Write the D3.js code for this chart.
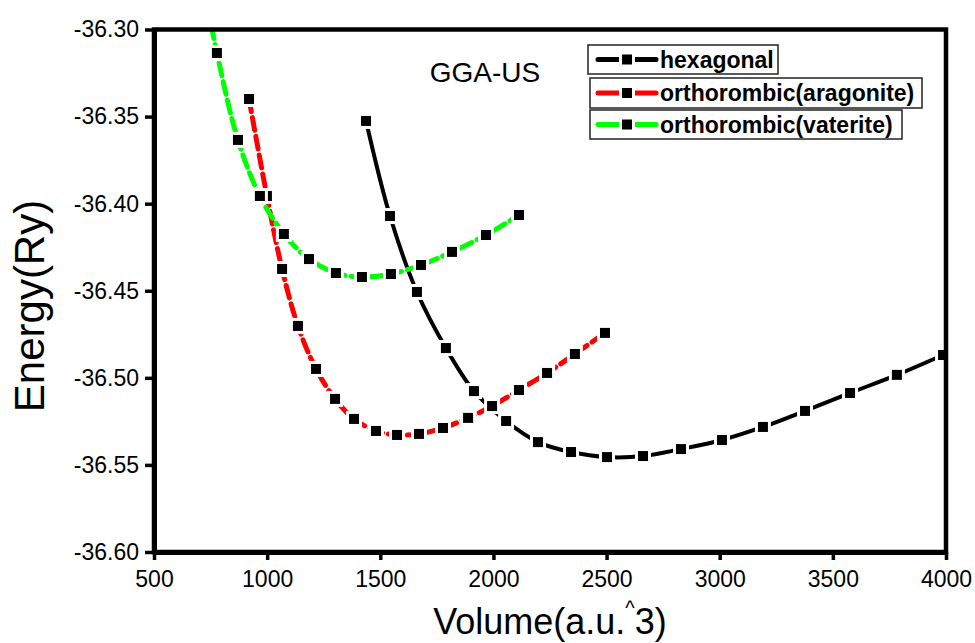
<!DOCTYPE html>
<html>
<head>
<meta charset="utf-8">
<script src="https://cdn.jsdelivr.net/npm/d3@7"></script>
<style>
  body { margin: 0; background: #fff; }
  svg { display: block; }
  text { font-family: "Liberation Sans", Arial, sans-serif; }
</style>
</head>
<body>
<svg id="chart" width="975" height="643"></svg>
<script>
// ---------- data ----------
const hexVolume = [1437, 1543, 1662, 1790, 1914, 2056, 2197, 2343, 2502, 2661, 2829, 3010, 3191, 3377, 3576, 3783, 3987];
const hexEnergy = [-36.3525, -36.4071, -36.4507, -36.4829, -36.5076, -36.5248, -36.5369, -36.5426, -36.5455, -36.5449, -36.5409, -36.5357, -36.5282, -36.5190, -36.5087, -36.4983, -36.4869];

const aragVolume = [920, 999, 1066, 1136, 1216, 1300, 1384, 1481, 1574, 1671, 1777, 1888, 1994, 2113, 2237, 2360, 2493];
const aragEnergy = [-36.3399, -36.3956, -36.4375, -36.4702, -36.4949, -36.5121, -36.5236, -36.5305, -36.5328, -36.5322, -36.5288, -36.5230, -36.5162, -36.5070, -36.4972, -36.4863, -36.4742];

// first vaterite point lies above the plotted range (clipped in the figure)
const vatVolume = [690, 778, 871, 968, 1074, 1185, 1304, 1419, 1547, 1680, 1817, 1967, 2113];
const vatEnergy = [-36.255, -36.3135, -36.3634, -36.3956, -36.4174, -36.4318, -36.4398, -36.4421, -36.4404, -36.4352, -36.4277, -36.4180, -36.4065];

const seriesNames = ["hexagonal", "orthorombic(aragonite)", "orthorombic(vaterite)"];
const seriesColors = ["#000000", "#ff0000", "#00ff00"];

const xTicks = [500, 1000, 1500, 2000, 2500, 3000, 3500, 4000];
const xTickLabels = ["500", "1000", "1500", "2000", "2500", "3000", "3500", "4000"];
const yTicks = [-36.60, -36.55, -36.50, -36.45, -36.40, -36.35, -36.30];
const yTickLabels = ["-36.60", "-36.55", "-36.50", "-36.45", "-36.40", "-36.35", "-36.30"];

const xTitle = "Volume(a.u.";
const xTitleSup = "^";
const xTitleEnd = "3)";
const yTitle = "Energy(Ry)";
const annotation = "GGA-US";

// ---------- layout ----------
const W = 975, H = 643;
const margin = { left: 154, right: 29, top: 29.5, bottom: 91 };
const svg = d3.select("#chart");

const x = d3.scaleLinear().domain([500, 4000]).range([margin.left, W - margin.right]);
const y = d3.scaleLinear().domain([-36.60, -36.30]).range([H - margin.bottom, margin.top]);

svg.append("defs").append("clipPath").attr("id", "plotclip")
  .append("rect")
  .attr("x", x(500)).attr("y", y(-36.30))
  .attr("width", x(4000) - x(500)).attr("height", y(-36.60) - y(-36.30));

// ---------- series ----------
const series = [
  { name: seriesNames[0], color: seriesColors[0], vx: hexVolume, vy: hexEnergy, width: 4, dash: null },
  { name: seriesNames[1], color: seriesColors[1], vx: aragVolume, vy: aragEnergy, width: 5, dash: "13,6" },
  { name: seriesNames[2], color: seriesColors[2], vx: vatVolume, vy: vatEnergy, width: 5, dash: "13,6" }
];

const line = d3.line()
  .x(d => x(d[0]))
  .y(d => y(d[1]))
  .curve(d3.curveCatmullRom.alpha(0.5));

const plot = svg.append("g").attr("clip-path", "url(#plotclip)");
const mk = 10, halo = 16;

series.forEach(s => {
  const pts = s.vx.map((v, i) => [v, s.vy[i]]);
  const g = plot.append("g");
  g.append("path")
    .attr("d", line(pts))
    .attr("fill", "none")
    .attr("stroke", s.color)
    .attr("stroke-width", s.width)
    .attr("stroke-linecap", "round")
    .attr("stroke-dasharray", s.dash);
  g.selectAll("rect.halo").data(pts).join("rect")
    .attr("class", "halo")
    .attr("x", d => x(d[0]) - halo / 2).attr("y", d => y(d[1]) - halo / 2)
    .attr("width", halo).attr("height", halo)
    .attr("fill", "#fff");
  g.selectAll("rect.mk").data(pts).join("rect")
    .attr("class", "mk")
    .attr("x", d => x(d[0]) - mk / 2).attr("y", d => y(d[1]) - mk / 2)
    .attr("width", mk).attr("height", mk)
    .attr("fill", "#000");
});

// ---------- frame & axes ----------
svg.append("rect")
  .attr("x", x(500)).attr("y", y(-36.30))
  .attr("width", x(4000) - x(500)).attr("height", y(-36.60) - y(-36.30))
  .attr("fill", "none").attr("stroke", "#000").attr("stroke-width", 4.5);

const xAxis = d3.axisBottom(x).tickValues(xTicks)
  .tickFormat((d, i) => xTickLabels[i]).tickSizeInner(8).tickSizeOuter(0).tickPadding(11);
const yAxis = d3.axisLeft(y).tickValues(yTicks)
  .tickFormat((d, i) => yTickLabels[i]).tickSizeInner(9).tickSizeOuter(0).tickPadding(6);

const gx = svg.append("g").attr("transform", `translate(0,${y(-36.60)})`).call(xAxis);
const gy = svg.append("g").attr("transform", `translate(${x(500)},0)`).call(yAxis);
[gx, gy].forEach(g => {
  g.select(".domain").attr("stroke", "#000").attr("stroke-width", 5);
  g.selectAll(".tick line").attr("stroke", "#000").attr("stroke-width", 3.5);
  g.selectAll(".tick text")
    .attr("fill", "#000")
    .style("font-family", "'Liberation Sans', Arial, sans-serif")
    .style("font-size", "23px");
});

// ---------- titles ----------
const xt = svg.append("text")
  .attr("x", (x(500) + x(4000)) / 2).attr("y", 634)
  .attr("text-anchor", "middle")
  .style("font-size", "36px").attr("fill", "#000");
xt.append("tspan").text(xTitle);
xt.append("tspan").text(xTitleSup).attr("dy", -19).style("font-size", "20px");
xt.append("tspan").text(xTitleEnd).attr("dy", 19);

svg.append("text")
  .attr("transform", `translate(44,306) rotate(-90)`)
  .attr("text-anchor", "middle")
  .style("font-size", "42px").attr("fill", "#000")
  .text(yTitle);

svg.append("text")
  .attr("x", 485).attr("y", 82)
  .attr("text-anchor", "middle")
  .style("font-size", "28px").attr("fill", "#000")
  .text(annotation);

// ---------- legend ----------
const legendBoxes = [
  { x: 588, y: 45, w: 190, h: 29 },
  { x: 590, y: 78, w: 332, h: 30 },
  { x: 590, y: 110, w: 312, h: 29 }
];
const lg = svg.append("g");
series.forEach((s, i) => {
  const b = legendBoxes[i];
  const cy = b.y + b.h / 2;
  lg.append("rect").attr("x", b.x).attr("y", b.y).attr("width", b.w).attr("height", b.h)
    .attr("fill", "#fff").attr("stroke", "#222").attr("stroke-width", 1.5);
  lg.append("line").attr("x1", 598).attr("x2", 656).attr("y1", cy).attr("y2", cy)
    .attr("stroke", s.color).attr("stroke-width", 5).attr("stroke-linecap", "round");
  lg.append("rect").attr("x", 627 - 8).attr("y", cy - 8).attr("width", 16).attr("height", 16).attr("fill", "#fff");
  lg.append("rect").attr("x", 627 - 5).attr("y", cy - 5).attr("width", 10).attr("height", 10).attr("fill", "#000");
  lg.append("text").attr("x", 660).attr("y", cy + 8)
    .style("font-size", "23px").style("font-weight", "bold").attr("fill", "#000")
    .text(s.name);
});
</script>
</body>
</html>
